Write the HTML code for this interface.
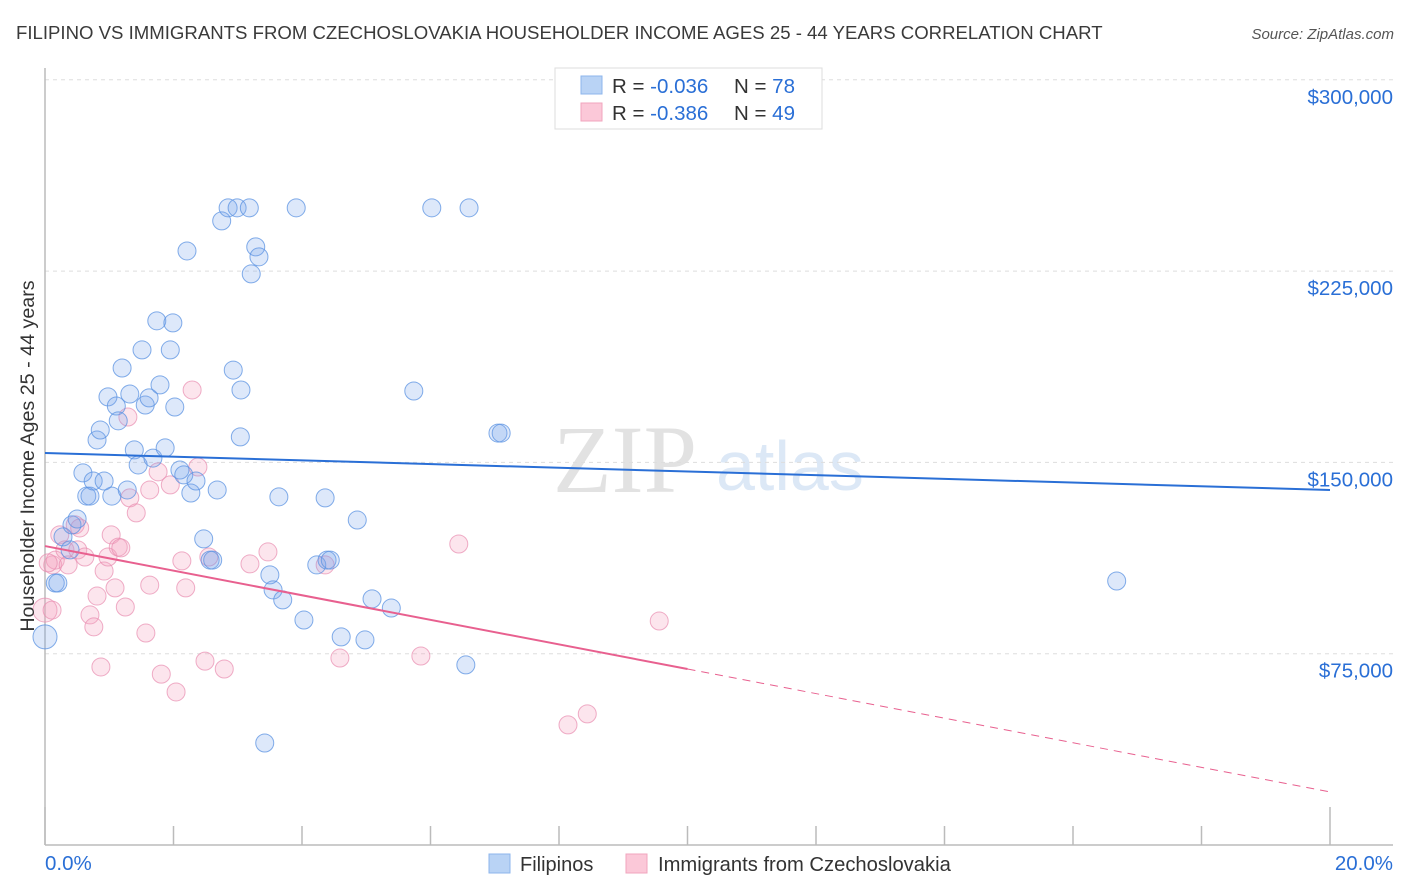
<!DOCTYPE html>
<html><head><meta charset="utf-8"><style>
body{margin:0;background:#fff;font-family:"Liberation Sans",sans-serif;}
#wrap{position:relative;width:1406px;height:892px;overflow:hidden;}
</style></head><body>
<div id="wrap">
<svg id="svg" width="1406" height="892" xmlns="http://www.w3.org/2000/svg">
<text x="16" y="39" font-size="18.6" fill="#3a3a3a">FILIPINO VS IMMIGRANTS FROM CZECHOSLOVAKIA HOUSEHOLDER INCOME AGES 25 - 44 YEARS CORRELATION CHART</text>
<text x="1394" y="39" font-size="15" fill="#555" font-style="italic" text-anchor="end">Source: ZipAtlas.com</text>
<g>
<text x="553" y="492" font-size="96" font-family="Liberation Serif,serif" fill="#e2e2e2">ZIP</text>
<text x="716" y="490" font-size="70" fill="#dce8f6">atlas</text>
</g>
<g id="grid"></g>
<g id="axes"></g>
<g id="marks"></g>
<g>
<rect x="555" y="68" width="267" height="61" fill="#fff" stroke="#ddd"/>
<rect x="581" y="76" width="21" height="18" fill="#b9d3f5" stroke="#8db6ec"/>
<rect x="581" y="103" width="21" height="18" fill="#fbc8d8" stroke="#f0a5be"/>
<text x="612" y="93" font-size="20.5" fill="#333">R = <tspan fill="#2a6fd6">-0.036</tspan></text>
<text x="734" y="93" font-size="20.5" fill="#333">N = <tspan fill="#2a6fd6">78</tspan></text>
<text x="612" y="120" font-size="20.5" fill="#333">R = <tspan fill="#2a6fd6"> -0.386</tspan></text>
<text x="734" y="120" font-size="20.5" fill="#333">N = <tspan fill="#2a6fd6">49</tspan></text>
</g>
<g>
<rect x="489" y="854" width="21" height="19" fill="#b9d3f5" stroke="#8db6ec"/>
<text x="520" y="871" font-size="20" fill="#333">Filipinos</text>
<rect x="626" y="854" width="21" height="19" fill="#fbc8d8" stroke="#f0a5be"/>
<text x="658" y="871" font-size="20.2" fill="#333">Immigrants from Czechoslovakia</text>
</g>
<text transform="translate(34,456) rotate(-90)" font-size="19.7" fill="#333" text-anchor="middle">Householder Income Ages 25 - 44 years</text>
</svg>
</div>
<script>
const yTicks=[75,150,225,300];
const yTickLabels=["$75,000","$150,000","$225,000","$300,000"];
const xTicks=[0,2,4,6,8,10,12,14,16,18,20];
const blueX=[0.00,0.16,0.20,0.28,0.42,0.39,0.50,0.59,0.65,0.70,0.75,0.81,0.86,0.92,0.98,1.04,1.11,1.14,1.20,1.28,1.32,1.39,1.45,1.51,1.56,1.62,1.68,1.74,1.79,1.87,1.95,1.99,2.02,2.10,2.16,2.21,2.27,2.35,2.47,2.57,2.61,2.68,2.75,2.85,2.93,2.99,3.05,3.04,3.18,3.21,3.28,3.33,3.50,3.55,3.64,3.70,3.91,4.03,4.23,4.36,4.39,4.44,4.61,4.86,4.98,5.09,5.39,5.74,6.02,6.55,6.60,7.05,7.10,3.42,16.68];
const blueY=[81.6,102.7,102.7,120.8,125.5,115.7,127.8,145.9,136.8,136.8,142.7,158.8,162.7,142.7,175.7,136.8,172.1,166.3,187.0,139.2,176.8,154.9,149.0,194.1,172.5,175.3,151.7,205.5,180.4,155.7,194.1,204.7,171.7,147.0,145.1,232.9,138.0,142.7,120.0,111.7,111.7,139.2,244.7,249.8,186.2,249.8,178.4,160.0,249.8,223.9,234.5,230.6,105.9,100.0,136.5,96.1,249.8,88.2,109.8,136.1,111.7,111.7,81.6,127.4,80.4,96.5,92.9,178.0,249.8,70.6,249.8,161.5,161.5,40.0,103.5];
const pinkX=[0.00,0.12,0.16,0.23,0.31,0.36,0.47,0.51,0.54,0.62,0.70,0.76,0.81,0.87,0.92,0.98,1.03,1.09,1.14,1.18,1.25,1.29,1.32,1.42,1.57,1.63,1.63,1.76,1.81,1.95,2.04,2.13,2.19,2.29,2.38,2.49,2.55,2.79,3.19,3.47,4.36,4.59,5.85,6.44,8.14,8.44,9.56,0.05,0.11];
const pinkY=[92.1,109.8,111.7,121.6,115.7,109.8,125.5,115.7,124.3,112.9,90.2,85.5,97.6,69.8,107.4,112.9,121.6,100.8,116.8,116.5,93.3,167.8,136.1,130.2,83.1,101.9,139.2,146.3,67.0,141.2,60.0,111.4,100.8,178.4,148.2,72.1,112.9,69.0,110.2,114.9,109.8,73.3,74.1,118.0,47.1,51.4,87.8,110.6,92.1];
const blueTrend=[153.7,139.2];
const pinkTrend=[117.2,20.8];
const pinkSolidEnd=10;

const NS="http://www.w3.org/2000/svg";
const X=p=>45+p*64.25;
const Y=v=>845-v*191.3/75;
function mk(tag,attrs,parent){const e=document.createElementNS(NS,tag);for(const k in attrs)e.setAttribute(k,attrs[k]);document.getElementById(parent).appendChild(e);return e;}
yTicks.forEach((t,i)=>{
  const g=mk('line',{x1:45,x2:1393,y1:Y(t),y2:Y(t),stroke:'#ddd','stroke-dasharray':'4,4'},'grid');
  
  
  const l=mk('text',{x:1393,y:Y(t)+24,'font-size':20.5,fill:'#2a6fd6','text-anchor':'end'},'grid');
  l.textContent=yTickLabels[i];
  
  
});
const ax=mk('line',{x1:45,x2:1393,y1:845,y2:845,stroke:'#bbb','stroke-width':1.5},'axes');


const ay=mk('line',{x1:45,x2:45,y1:68,y2:845,stroke:'#bbb','stroke-width':1.5},'axes');


xTicks.forEach((t,i)=>{
  const tk=mk('line',{x1:X(t),x2:X(t),y1:(i==0||i==xTicks.length-1)?807:826,y2:845,stroke:'#bbb','stroke-width':1.5},'axes');
  
  
});
const xl0=mk('text',{x:45,y:870,'font-size':20.5,fill:'#2a6fd6'},'axes');xl0.textContent=xTicks[0].toFixed(1)+'%';


const xl1=mk('text',{x:1393,y:870,'font-size':20.5,fill:'#2a6fd6','text-anchor':'end'},'axes');xl1.textContent=xTicks[xTicks.length-1].toFixed(1)+'%';



pinkX.forEach((x,i)=>{
  const c=mk('circle',{cx:X(x),cy:Y(pinkY[i]),r:i==0?12:9,fill:'rgba(246,160,190,0.28)',stroke:'rgba(232,140,175,0.7)','stroke-width':1},'marks');
  
  
});
blueX.forEach((x,i)=>{
  const c=mk('circle',{cx:X(x),cy:Y(blueY[i]),r:i==0?12:9,fill:'rgba(120,165,235,0.25)',stroke:'rgba(90,145,225,0.75)','stroke-width':1},'marks');
  
  
});
const bt=mk('line',{x1:X(0),y1:Y(blueTrend[0]),x2:X(20),y2:Y(blueTrend[1]),stroke:'#2a6fd6','stroke-width':2},'marks');


const pm=pinkTrend[0]+(pinkTrend[1]-pinkTrend[0])*pinkSolidEnd/20;
const ps=mk('line',{x1:X(0),y1:Y(pinkTrend[0]),x2:X(pinkSolidEnd),y2:Y(pm),stroke:'#e8608f','stroke-width':2},'marks');


const pd=mk('line',{x1:X(pinkSolidEnd),y1:Y(pm),x2:X(20),y2:Y(pinkTrend[1]),stroke:'#e8608f','stroke-width':1,'stroke-dasharray':'8,6'},'marks');


</script>
</body></html>
